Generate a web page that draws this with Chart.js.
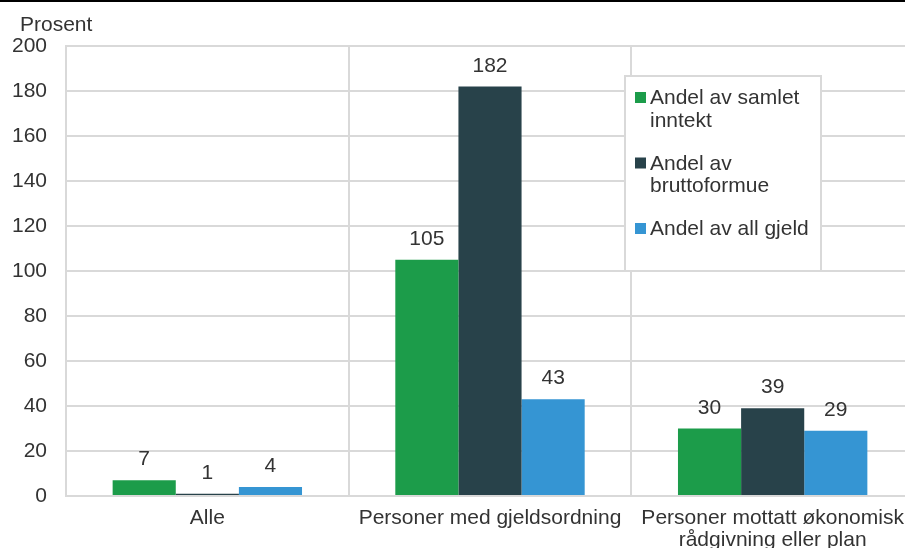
<!DOCTYPE html>
<html>
<head>
<meta charset="utf-8">
<script src="https://cdn.jsdelivr.net/npm/chart.js@4.4.1/dist/chart.umd.min.js"></script>
<style>
  html, body { margin: 0; padding: 0; background: #fff; overflow: hidden; }
  #wrap { width: 916px; height: 548px; }
</style>
</head>
<body>
<div id="wrap"><canvas id="chart" width="916" height="548"></canvas></div>
<script>
var categories = ['Alle', 'Personer med gjeldsordning', ['Personer mottatt økonomisk', 'rådgivning eller plan']];
var seriesNames = [['Andel av samlet', 'inntekt'], ['Andel av', 'bruttoformue'], ['Andel av all gjeld']];
var inntekt = [7, 105, 30];
var bruttoformue = [1, 182, 39];
var gjeld = [4, 43, 29];
var colors = ['#1c9c4a', '#28424a', '#3595d3'];

var FONT = 'Liberation Sans, Arial, sans-serif';
var TEXT = '#333333';
var GRID = '#d9d9d9';

var extras = {
  id: 'extras',
  afterDraw: function (chart) {
    var ctx = chart.ctx;
    ctx.save();
    // top rule
    ctx.fillStyle = '#000';
    ctx.fillRect(0, 0, chart.width, 2);
    // axis unit
    ctx.fillStyle = TEXT;
    ctx.font = '21px ' + FONT;
    ctx.textAlign = 'left';
    ctx.textBaseline = 'alphabetic';
    ctx.fillText('Prosent', 20, 31);

    // value labels
    ctx.textAlign = 'center';
    chart.data.datasets.forEach(function (ds, i) {
      chart.getDatasetMeta(i).data.forEach(function (bar, j) {
        ctx.fillText(ds.data[j], bar.x, bar.y - 15);
      });
    });

    // legend box
    var lx = 625, ly = 76, lw = 196, lh = 195;
    ctx.fillStyle = '#fff';
    ctx.fillRect(lx, ly, lw, lh);
    ctx.strokeStyle = GRID;
    ctx.lineWidth = 2;
    ctx.strokeRect(lx, ly, lw, lh);
    ctx.textAlign = 'left';
    var base = 104;
    chart.data.datasets.forEach(function (ds, i) {
      var b = base + i * 65.5;
      ctx.fillStyle = ds.backgroundColor;
      ctx.fillRect(635, b - 12, 11, 11);
      ctx.fillStyle = TEXT;
      seriesNames[i].forEach(function (line, k) {
        ctx.fillText(line, 650, b + k * 22.5);
      });
    });
    ctx.restore();
  }
};

new Chart(document.getElementById('chart').getContext('2d'), {
  type: 'bar',
  data: {
    labels: categories,
    datasets: [
      { label: seriesNames[0].join(' '), data: inntekt, backgroundColor: colors[0] },
      { label: seriesNames[1].join(' '), data: bruttoformue, backgroundColor: colors[1] },
      { label: seriesNames[2].join(' '), data: gjeld, backgroundColor: colors[2] }
    ]
  },
  options: {
    responsive: false,
    animation: false,
    layout: { padding: { top: 46, right: 2, left: 0, bottom: 0 } },
    datasets: { bar: { categoryPercentage: 0.67, barPercentage: 1 } },
    plugins: { legend: { display: false }, tooltip: { enabled: false } },
    scales: {
      x: {
        grid: { color: GRID, lineWidth: 2, drawTicks: false, offset: true },
        border: { color: GRID, width: 2 },
        ticks: { color: TEXT, font: { family: FONT, size: 21, lineHeight: 1.05 }, padding: 11, maxRotation: 0, autoSkip: false },
        afterFit: function (s) { s.height = 52; }
      },
      y: {
        min: 0, max: 200,
        grid: { color: GRID, lineWidth: 2, drawTicks: false },
        border: { color: GRID, width: 2 },
        ticks: { stepSize: 20, color: TEXT, font: { family: FONT, size: 21 }, padding: 19 },
        afterFit: function (s) { s.width = 66; }
      }
    }
  },
  plugins: [extras]
});
</script>
</body>
</html>
